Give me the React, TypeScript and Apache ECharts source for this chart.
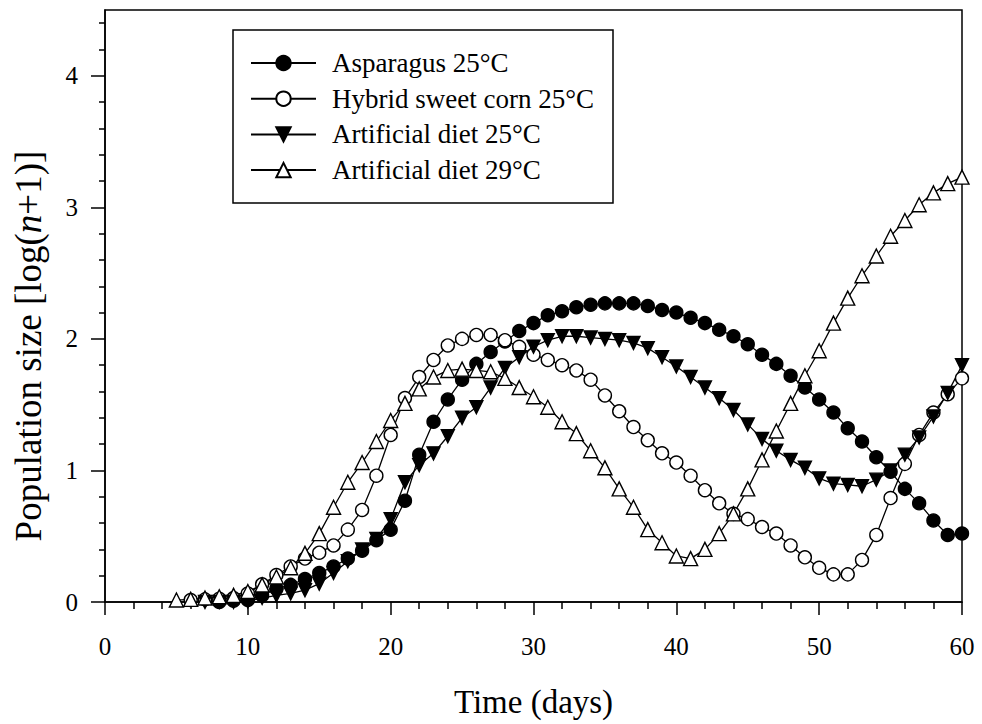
import React, { useEffect, useRef } from "react";
import * as echarts from "echarts";

const days = [5,6,7,8,9,10,11,12,13,14,15,16,17,18,19,20,21,22,23,24,25,26,27,28,29,30,31,32,33,34,35,36,37,38,39,40,41,42,43,44,45,46,47,48,49,50,51,52,53,54,55,56,57,58,59,60];

const asparagus25 = [null,null,null,0.0,0.01,0.015,0.05,0.10,0.13,0.175,0.22,0.27,0.33,0.39,0.47,0.55,0.77,1.12,1.37,1.54,1.69,1.81,1.90,1.98,2.06,2.12,2.18,2.21,2.24,2.26,2.27,2.27,2.27,2.25,2.22,2.20,2.16,2.12,2.07,2.02,1.96,1.88,1.81,1.72,1.63,1.54,1.44,1.32,1.22,1.10,0.99,0.86,0.75,0.62,0.51,0.52];
const sweetCorn25 = [null,0.015,0.02,0.025,0.03,0.065,0.135,0.205,0.27,0.33,0.375,0.43,0.55,0.70,0.96,1.27,1.55,1.71,1.84,1.95,2.00,2.03,2.03,1.99,1.94,1.88,1.84,1.80,1.76,1.69,1.57,1.45,1.33,1.23,1.13,1.06,0.96,0.85,0.75,0.67,0.63,0.57,0.52,0.43,0.34,0.26,0.21,0.21,0.32,0.51,0.79,1.05,1.27,1.44,1.58,1.70];
const diet25 = [null,null,0.0,0.0,0.0,0.005,0.03,0.05,0.065,0.09,0.14,0.22,0.31,0.40,0.48,0.63,0.91,1.04,1.13,1.26,1.40,1.48,1.63,1.78,1.86,1.94,1.99,2.02,2.02,2.01,2.00,1.99,1.97,1.93,1.86,1.79,1.71,1.63,1.55,1.46,1.35,1.24,1.15,1.08,1.02,0.94,0.90,0.89,0.88,0.93,1.00,1.12,1.25,1.41,1.59,1.80];
const diet29 = [0.015,0.02,0.03,0.04,0.05,0.08,0.13,0.19,0.26,0.37,0.52,0.72,0.91,1.06,1.22,1.38,1.51,1.62,1.71,1.76,1.77,1.76,1.75,1.70,1.63,1.56,1.48,1.37,1.28,1.15,1.02,0.86,0.72,0.55,0.45,0.35,0.33,0.40,0.52,0.67,0.86,1.08,1.30,1.51,1.72,1.91,2.12,2.31,2.48,2.63,2.78,2.90,3.02,3.11,3.18,3.23];

const seriesNames = ["Asparagus 25°C", "Hybrid sweet corn 25°C", "Artificial diet 25°C", "Artificial diet 29°C"];
const yMajorTicks = [0, 1, 2, 3, 4];
const yMinorTicks = [0.2,0.4,0.6,0.8,1.2,1.4,1.6,1.8,2.2,2.4,2.6,2.8,3.2,3.4,3.6,3.8,4.2,4.4];

const FONT = "Liberation Serif";

function pairs(vals: (number | null)[]) {
  return days.map((d, i) => [d, vals[i]]).filter((p) => p[1] !== null);
}

export default function App() {
  const ref = useRef<HTMLDivElement>(null);
  useEffect(() => {
    document.body.style.margin = "0";
    const chart = echarts.init(ref.current!, null, { renderer: "svg" });
    const lineStyle = { color: "#000", width: 1.3 };
    const mk = (name: string, vals: (number | null)[], symbol: string, size: number, filled: boolean) => ({
      name,
      type: "line",
      data: pairs(vals),
      symbol,
      symbolSize: size,
      showSymbol: true,
      color: "#000",
      lineStyle,
      itemStyle: { color: filled ? "#000" : "#fff", borderColor: "#000", borderWidth: 1.4 },
      emphasis: { disabled: true },
    });
    const axisCommon = {
      min: 0,
      axisLine: { show: true, lineStyle: { color: "#000", width: 1.5 } },
      splitLine: { show: false },
    };
    chart.setOption({
      animation: false,
      grid: { left: 105, right: 20, top: 10, bottom: 122, show: true, borderColor: "#000", borderWidth: 1.5 },
      xAxis: {
        type: "value",
        ...axisCommon,
        max: 60,
        interval: 10,
        axisTick: { show: true, length: 13, lineStyle: { color: "#000", width: 1.5 } },
        minorTick: { show: true, splitNumber: 5, length: 7, lineStyle: { color: "#000", width: 1.5 } },
        axisLabel: { color: "#000", fontFamily: FONT, fontSize: 25, margin: 32 },
      },
      yAxis: [
        {
          type: "value",
          ...axisCommon,
          max: 4.5,
          axisTick: { show: true, length: 14, customValues: yMajorTicks, lineStyle: { color: "#000", width: 1.5 } },
          axisLabel: { color: "#000", fontFamily: FONT, fontSize: 25, margin: 27, customValues: yMajorTicks },
        },
        {
          type: "value",
          min: 0,
          max: 4.5,
          axisLine: { show: false },
          splitLine: { show: false },
          axisTick: { show: true, length: 6, customValues: yMinorTicks, lineStyle: { color: "#000", width: 1.5 } },
          axisLabel: { show: false },
          position: "left",
        },
      ],
      legend: {
        orient: "vertical",
        left: 250,
        top: 48,
        padding: 0,
        itemWidth: 65,
        itemHeight: 18,
        itemGap: 5.7,
        data: seriesNames,
        textStyle: { color: "#000", fontFamily: FONT, fontSize: 27, lineHeight: 30, padding: [0, 0, 0, 11] },
      },
      graphic: [
        { type: "rect", shape: { x: 233, y: 30, width: 380, height: 173 }, style: { fill: "none", stroke: "#000", lineWidth: 1.5 }, z: 10 },
        {
          type: "text",
          x: 533.5,
          y: 702,
          style: { text: "Time (days)", font: `33px "${FONT}"`, fill: "#000", align: "center", verticalAlign: "middle" },
        },
        {
          type: "text",
          x: 28,
          y: 346,
          rotation: Math.PI / 2,
          style: {
            text: "{a|Population size [log(}{i|n}{a|+1)]}",
            align: "center",
            verticalAlign: "middle",
            rich: {
              a: { fontFamily: FONT, fontSize: 37, fill: "#000" },
              i: { fontFamily: FONT, fontSize: 37, fontStyle: "italic", fill: "#000" },
            },
          },
        },
      ],
      series: [
        mk(seriesNames[0], asparagus25, "circle", 13, true),
        mk(seriesNames[1], sweetCorn25, "circle", 13, false),
        mk(seriesNames[2], diet25, "path://M0,0L10,0L5,10Z", 13, true),
        mk(seriesNames[3], diet29, "triangle", 14, false),
      ],
    });
    return () => chart.dispose();
  }, []);
  return <div ref={ref} style={{ width: 982, height: 724 }} />;
}
